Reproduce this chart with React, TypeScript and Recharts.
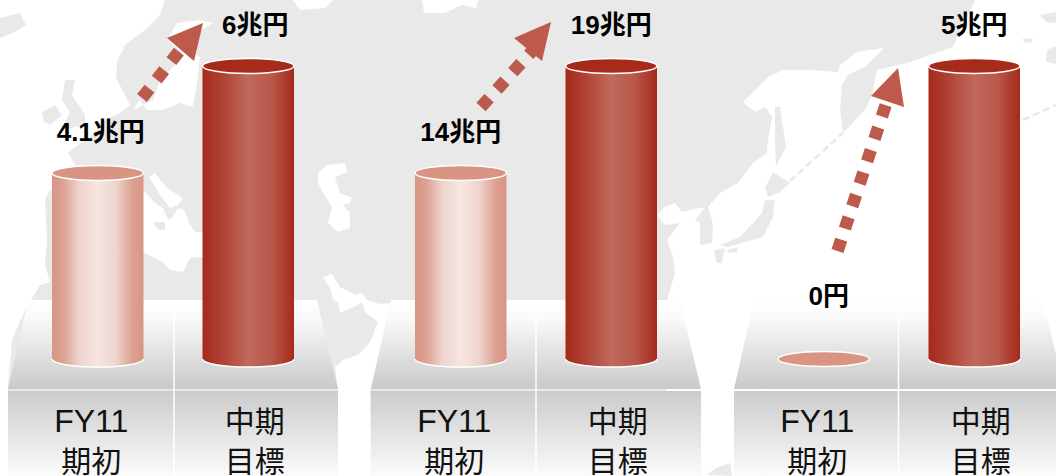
import { BarChart, Bar, XAxis, YAxis, LabelList } from 'recharts';

// 期初 / 中期目標, one pair per panel
const startValues = [4.1, 14, 0];
const targetValues = [6, 19, 5];
// the source picture does not start its bars at zero
const axisFloors = [0.8, 5.3, 0];
const categories = ['FY11 期初', '中期 目標'];
const startLabelShift = [3, 0, 5];
const targetLabelShift = [7, 0, 0];
const tickShift = [-6, 7];
const dividers = [174, 536, 898.5];

const GREY = '#e9e9e9';
const RED = '#bd5a4b';

// white oceans over a grey world
const oceans = [
  '0,0 165,0 160,15 145,30 125,45 117,62 116,78 125,95 130,105 120,113 105,120 92,135 78,145 68,153 75,165 85,175 70,185 50,190 45,200 47,240 45,265 50,282 40,285 25,310 12,340 8,385 8,476 0,476',
  '133,110 140,100 147,110 163,110 180,103 193,107 197,83 200,57 187,50 197,33 213,23 200,20 177,23 167,40 183,53 173,67 160,80 153,100',
  '149,177 155,173 167,188 183,198 178,205 170,208 160,195',
  '143,190 155,203 163,208 168,220 172,218 178,208 184,210 190,225 195,232 202,232 294,240 294,260 200,257 190,258 183,272 170,270 163,262 143,252',
  '293,0 333,0 325,8 300,10',
  '422,0 478,0 476,8 462,5 445,13 424,13',
  '318,173 327,165 345,163 347,172 335,177 340,193 352,198 350,203 343,205 350,213 350,228 338,232 328,223 332,207 323,193 318,183',
  '323,277 332,274 340,287 355,295 362,293 367,300 380,304 392,303 370,390 371,476 338,476 338,390 335,367 343,360 358,355 370,342 378,322 365,312 362,302 358,305 340,313 338,302 333,300 331,290',
  '1056,0 975,0 958,35 953,47 907,63 877,70 875,80 872,95 865,110 843,133 840,110 842,85 848,75 866,66 884,48 857,52 840,65 838,72 810,70 783,70 768,77 753,92 743,102 755,112 765,107 772,117 768,140 767,153 753,163 738,183 720,193 708,207 712,220 713,230 712,243 700,245 700,223 695,220 705,207 690,210 682,212 675,203 665,207 657,215 665,225 680,223 667,240 673,257 675,273 670,290 667,300 665,476 1056,476',
];
const islands = [
  '0,18 20,13 26,25 15,32 0,38',
  '65,80 75,80 72,95 85,115 85,125 62,130 70,112 62,100',
  '42,112 55,105 62,115 50,125 44,122',
  '153,222 165,222 165,230 158,230',
  '775,107 780,107 786,147 776,166 775,140',
  '773,172 790,183 780,192 768,197 765,188',
  '765,200 775,200 773,217 763,237 727,247 720,245 740,237 753,223 762,213',
  '714,250 725,248 722,263 717,263',
  '727,250 738,247 737,252 728,253',
  '1040,15 1056,12 1056,23 1046,22',
  '1023,38 1033,39 1031,43 1024,42',
  '1047,50 1056,46 1056,64 1046,62',
  '707,475 716,468 730,463 732,476',
];

const arrows = [
  { from: [142, 98], to: [185, 44], head: '203,23 167,38 194,61' },
  { from: [481, 107], to: [533, 50], head: '551,22 514,38 542,61' },
  { from: [837.5, 251], to: [887, 101], head: '898,68 871,96 904,107' },
];

function Cylinder(props: any) {
  const { x, y, width, height, index } = props;
  const rx = width / 2;
  const ry = 8;
  const top = index === 0 ? '#d99484' : '#a72b1b';
  const cx = x + rx;
  const body = height > 0;
  return (
    <g>
      {body && (
        <path
          d={`M${x},${y} L${x},${y + height} A${rx},${ry} 0 0 0 ${x + width},${y + height} L${x + width},${y} Z`}
          fill={index === 0 ? 'url(#lightBody)' : 'url(#darkBody)'}
        />
      )}
      {body && (
        <path
          d={`M${x},${y + height} A${rx},${ry} 0 0 0 ${x + width},${y + height}`}
          fill="none"
          stroke="#fff"
          strokeWidth={1.5}
        />
      )}
      <ellipse cx={cx} cy={y} rx={rx} ry={ry - 0.5} fill={top} stroke="#fff" strokeWidth={1.5} />
    </g>
  );
}

function CategoryTick(props: any) {
  const { x, payload, index } = props;
  const lines = String(payload.value).split(' ');
  const cx = x + tickShift[index];
  const size = (s: string) => (/^[A-Z]/.test(s) ? 32 : 30);
  return (
    <text
      textAnchor="middle"
      fill="#111"
      fontFamily='"Liberation Sans", "Noto Sans CJK JP", sans-serif'
    >
      <tspan x={cx} y={432} fontSize={size(lines[0])}>{lines[0]}</tspan>
      <tspan x={cx} y={472} fontSize={size(lines[1])}>{lines[1]}</tspan>
    </text>
  );
}

function Panel({ panel }: { panel: number }) {
  const data = categories.map((name, i) => ({
    name,
    value: i === 0 ? startValues[panel] : targetValues[panel],
  }));
  const renderValue = (props: any) => {
    const { x, y, width, value, index } = props;
    const shift = index === 0 ? startLabelShift[panel] : targetLabelShift[panel];
    return (
      <text
        x={x + width / 2 + shift}
        y={y - (value === 0 ? 54 : 32)}
        textAnchor="middle"
        fill="#000"
        fontSize={26}
        fontWeight="bold"
        fontFamily='"Liberation Sans", "Noto Sans CJK JP", sans-serif'
      >
        {value === 0 ? '0円' : `${value}兆円`}
      </text>
    );
  };
  return (
    <div style={{ position: 'absolute', left: 8 + 363 * panel, top: 0 }}>
      <BarChart width={330} height={476} data={data} margin={{ top: 66, right: 15, bottom: 0, left: 14 }}>
        <XAxis dataKey="name" height={117} axisLine={false} tickLine={false} interval={0} tick={<CategoryTick />} />
        <YAxis hide domain={[axisFloors[panel], targetValues[panel]]} />
        <Bar dataKey="value" barSize={91.5} shape={<Cylinder />} isAnimationActive={false}>
          <LabelList dataKey="value" content={renderValue} />
        </Bar>
      </BarChart>
    </div>
  );
}

function Backdrop() {
  return (
    <svg width={1056} height={476} style={{ position: 'absolute', left: 0, top: 0 }}>
      <defs>
        <linearGradient id="lightBody" x1="0" x2="1" y1="0" y2="0">
          <stop offset="0" stopColor="#d99484" />
          <stop offset="0.12" stopColor="#dca192" />
          <stop offset="0.3" stopColor="#eed4cd" />
          <stop offset="0.5" stopColor="#f6e6e2" />
          <stop offset="0.7" stopColor="#eed4cd" />
          <stop offset="0.88" stopColor="#dca192" />
          <stop offset="1" stopColor="#d99484" />
        </linearGradient>
        <linearGradient id="darkBody" x1="0" x2="1" y1="0" y2="0">
          <stop offset="0" stopColor="#a52a1a" />
          <stop offset="0.2" stopColor="#ae4032" />
          <stop offset="0.5" stopColor="#c0695d" />
          <stop offset="0.75" stopColor="#b9584b" />
          <stop offset="1" stopColor="#a52a1a" />
        </linearGradient>
        <linearGradient id="stageTop" x1="0" x2="0" y1="0" y2="1">
          <stop offset="0" stopColor="#fff" />
          <stop offset="0.2" stopColor="#fafafa" />
          <stop offset="1" stopColor="#c9c9c9" />
        </linearGradient>
        <linearGradient id="stageFront" x1="0" x2="0" y1="0" y2="1">
          <stop offset="0" stopColor="#cbcbcb" />
          <stop offset="1" stopColor="#fbfbfb" />
        </linearGradient>
      </defs>
      <rect width={1056} height={476} fill={GREY} />
      {oceans.map((pts, i) => <polygon key={i} points={pts} fill="#fff" />)}
      {islands.map((pts, i) => <polygon key={i} points={pts} fill={GREY} />)}
      <line x1={790} y1={181} x2={843} y2={133} stroke={GREY} strokeWidth={2.5} strokeDasharray="7 4" />
      <line x1={1023} y1={120} x2={1056} y2={105} stroke={GREY} strokeWidth={2.5} strokeDasharray="7 4" />
      {startValues.map((_, i) => (
        <g key={i}>
          <g transform={`translate(${363 * i},0)`}>
            <polygon points="28,300 317,300 338,389 8,389" fill="url(#stageTop)" />
            <rect x={8} y={391} width={330} height={85} fill="url(#stageFront)" />
          </g>
          <line x1={dividers[i]} x2={dividers[i]} y1={300} y2={476} stroke="#fff" strokeWidth={1.5} />
        </g>
      ))}
    </svg>
  );
}

export default function App() {
  return (
    <div style={{ position: 'absolute', left: 0, top: 0, width: 1056, height: 476, overflow: 'hidden', background: '#fff' }}>
      <Backdrop />
      {startValues.map((_, i) => <Panel key={i} panel={i} />)}
      <svg width={1056} height={476} style={{ position: 'absolute', left: 0, top: 0, pointerEvents: 'none' }}>
        {arrows.map((a, i) => (
          <g key={i}>
            <line x1={a.from[0]} y1={a.from[1]} x2={a.to[0]} y2={a.to[1]} stroke={RED} strokeWidth={12.5} strokeDasharray="12 11.6" />
            <polygon points={a.head} fill={RED} />
          </g>
        ))}
      </svg>
    </div>
  );
}
